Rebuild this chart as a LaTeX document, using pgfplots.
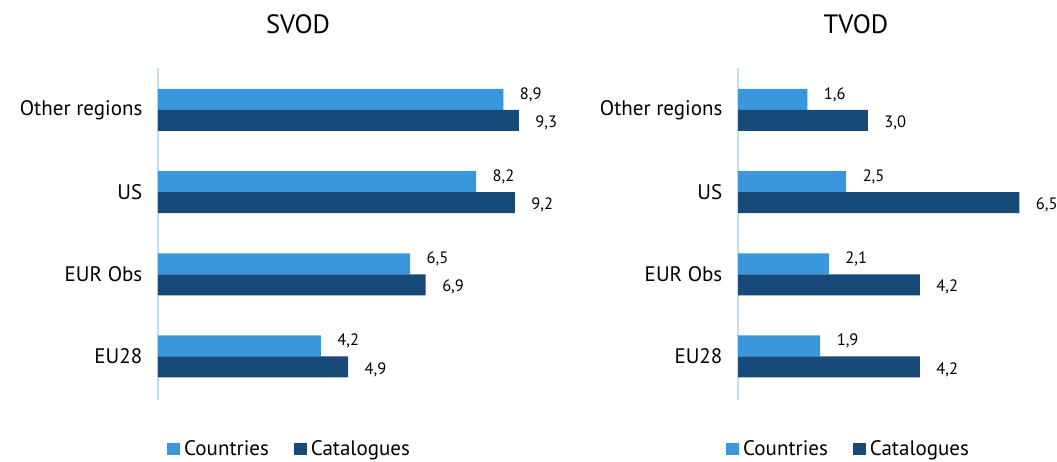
\documentclass[border=0pt]{standalone}
\usepackage{fontspec}
\setmainfont{PT Sans}
\usepackage{pgfplots}
\pgfplotsset{compat=1.18}

\definecolor{countries}{HTML}{3A96DD}
\definecolor{catalogues}{HTML}{174A78}
\definecolor{axisblue}{HTML}{C5DDF2}

\pgfplotsset{
  vodpanel/.style={
    scale only axis,
    xbar,
    height=332pt,
    ymin=-0.53, ymax=3.51,
    xmin=0,
    axis x line=none,
    axis y line=left,
    y axis line style={axisblue, line width=1.8pt, -},
    ytick={0,1,2,3},
    yticklabels={EU28, EUR Obs, US, Other regions},
    ytick style={draw=none},
    yticklabel style={font=\fontsize{21}{24}\selectfont, text=black, xshift=-10pt},
    bar width=21pt,
    nodes near coords,
    nodes near coords style={font=\fontsize{16.5}{18}\selectfont, text=black, anchor=west, xshift=13pt},
    /pgf/number format/.cd, fixed, fixed zerofill, precision=1, use comma, assume math mode=true,
    /pgfplots/.cd,
    legend columns=2,
    legend cell align=left,
    legend style={draw=none, fill=none, inner sep=0pt, font=\fontsize{21}{24}\selectfont, anchor=west,
      /tikz/every odd column/.append style={column sep=2pt},
      /tikz/every even column/.append style={column sep=23pt}},
    legend image code/.code={\fill[#1] (0pt,-6pt) rectangle (13pt,6pt);},
  },
  cntry/.style={fill=countries, draw=none, bar shift=10.5pt,
    every node near coord/.append style={yshift=5pt}},
  catal/.style={fill=catalogues, draw=none, bar shift=-10.5pt,
    every node near coord/.append style={yshift=-2.5pt}},
}

\begin{document}
\begin{tikzpicture}
  \path[use as bounding box] (0pt,0pt) rectangle (1057pt,-462pt);

  \node[font=\fontsize{26.5}{30}\selectfont] at (298pt,-24pt) {SVOD};
  \node[font=\fontsize{26.5}{30}\selectfont] at (856pt,-24pt) {TVOD};

  \begin{axis}[vodpanel, at={(158pt,-400pt)}, anchor=south west,
      width=388pt, xmax=10,
      legend style={at={(axis description cs:0.0232,-0.148)}}]
    \addplot[cntry] coordinates {(4.2,0) (6.5,1) (8.2,2) (8.9,3)};
    \addplot[catal] coordinates {(4.9,0) (6.9,1) (9.2,2) (9.3,3)};
    \legend{Countries, Catalogues}
  \end{axis}

  \begin{axis}[vodpanel, at={(738pt,-400pt)}, anchor=south west,
      width=303pt, xmax=7,
      legend style={at={(axis description cs:-0.0396,-0.148)}}]
    \addplot[cntry] coordinates {(1.9,0) (2.1,1) (2.5,2) (1.6,3)};
    \addplot[catal] coordinates {(4.2,0) (4.2,1) (6.5,2) (3.0,3)};
    \legend{Countries, Catalogues}
  \end{axis}
\end{tikzpicture}
\end{document}
